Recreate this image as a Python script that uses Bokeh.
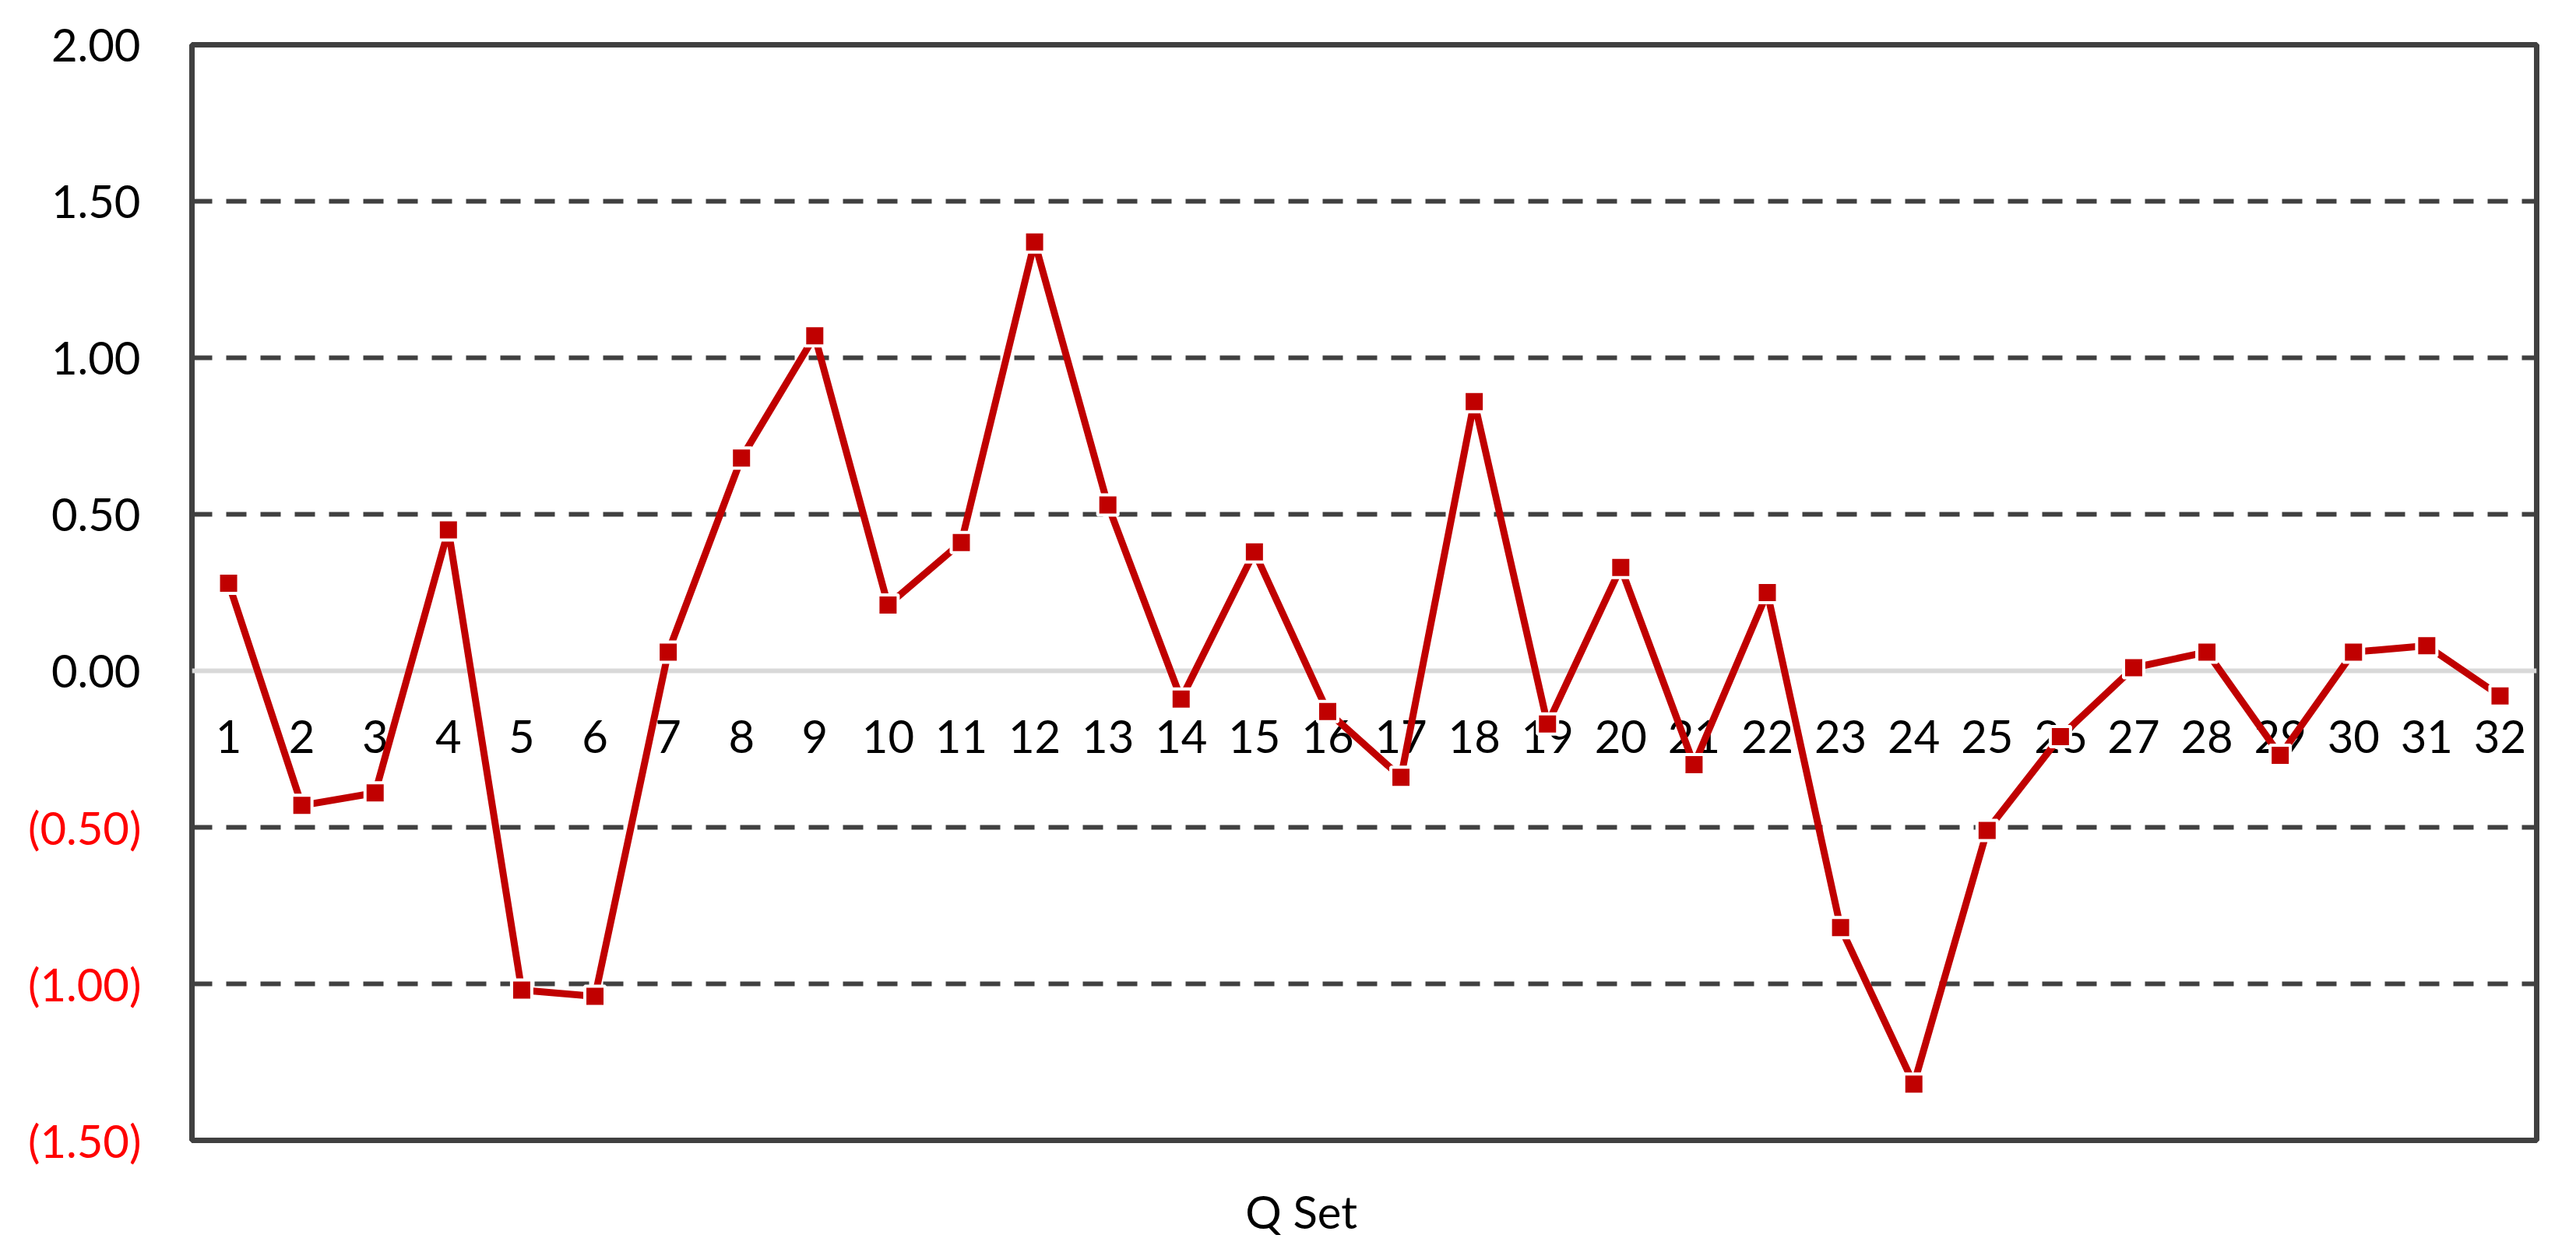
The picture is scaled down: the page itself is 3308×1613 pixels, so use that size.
from bokeh.plotting import figure
from bokeh.models import (FixedTicker, NumeralTickFormatter, LinearAxis, Range1d,
                          CustomJSTickFormatter)
from bokeh.embed import file_html
from bokeh.resources import INLINE

categories = ["1", "2", "3", "4", "5", "6", "7", "8", "9", "10", "11", "12", "13", "14", "15", "16",
              "17", "18", "19", "20", "21", "22", "23", "24", "25", "26", "27", "28", "29", "30", "31", "32"]
values = [0.28, -0.43, -0.39, 0.45, -1.02, -1.04, 0.06, 0.68, 1.07, 0.21, 0.41, 1.37, 0.53, -0.09, 0.38, -0.13,
          -0.34, 0.86, -0.17, 0.33, -0.30, 0.25, -0.82, -1.32, -0.51, -0.21, 0.01, 0.06, -0.27, 0.06, 0.08, -0.08]
pos_ticks = [0.0, 0.5, 1.0, 1.5, 2.0]
neg_ticks = [-0.5, -1.0, -1.5]
grid_ticks = [-1.0, -0.5, 0.5, 1.0, 1.5]
x_title = "Q Set"

xs = [int(c) for c in categories]
x_start, x_end = 0.5, 32.5
# the axis title sits a little left of the plot centre (centred on the whole chart)
x_title_pos = (x_start + x_end) / 2 - 0.86

FONT = "Lato"
FS = "58px"
STANDOFF = 65
RED_LABEL_W = 148  # approx width of "(0.50)" at 58px Lato

p = figure(width=3300, height=1605, x_range=Range1d(x_start, x_end), y_range=Range1d(-1.5, 2.0),
           output_backend="svg", toolbar_location=None,
           min_border_left=246, min_border_right=43, min_border_top=57, min_border_bottom=141,
           background_fill_color="white", border_fill_color="white")

p.outline_line_color = "#404040"
p.outline_line_width = 7

# x axis sits at zero
p.xaxis.fixed_location = 0
p.xaxis.ticker = FixedTicker(ticks=xs)
p.xaxis.major_label_overrides = {x: c for x, c in zip(xs, categories)}
p.xaxis.axis_line_color = "#D9D9D9"
p.xaxis.axis_line_width = 6
p.xaxis.major_tick_line_color = None
p.xaxis.minor_tick_line_color = None
p.xaxis.major_label_standoff = 57
p.xaxis.major_label_text_font = FONT
p.xaxis.major_label_text_font_size = FS
p.xaxis.major_label_text_color = "black"

# axis title "Q Set" below the plot area
title_axis = LinearAxis(ticker=FixedTicker(ticks=[x_title_pos]),
                        major_label_overrides={x_title_pos: x_title},
                        axis_line_color=None, major_tick_line_color=None, major_tick_out=0, major_tick_in=0,
                        minor_tick_line_color=None, minor_tick_out=0, minor_tick_in=0,
                        major_label_standoff=56, major_label_text_font=FONT,
                        major_label_text_font_size=FS, major_label_text_color="black")
p.add_layout(title_axis, "below")

# negative y labels (red) - inner axis
p.yaxis.ticker = FixedTicker(ticks=neg_ticks)
p.yaxis.formatter = CustomJSTickFormatter(code="return '(' + Math.abs(tick).toFixed(2) + ')';")
p.yaxis.axis_line_color = None
p.yaxis.major_tick_line_color = None
p.yaxis.minor_tick_line_color = None
p.yaxis.major_label_standoff = STANDOFF
p.yaxis.major_label_text_font = FONT
p.yaxis.major_label_text_font_size = FS
p.yaxis.major_label_text_color = "#FF0000"
p.yaxis.major_tick_out = 0
p.yaxis.major_tick_in = 0
p.yaxis.minor_tick_out = 0
p.yaxis.minor_tick_in = 0

# positive y labels (black) - outer axis, pulled back to same column
pos_axis = LinearAxis(ticker=FixedTicker(ticks=pos_ticks), formatter=NumeralTickFormatter(format="0.00"),
                      axis_line_color=None, major_tick_line_color=None, major_tick_out=0, major_tick_in=0,
                      minor_tick_line_color=None, minor_tick_out=0, minor_tick_in=0,
                      major_label_standoff=-RED_LABEL_W,
                      major_label_text_font=FONT, major_label_text_font_size=FS,
                      major_label_text_color="black")
p.add_layout(pos_axis, "left")

p.xgrid.visible = False
p.ygrid.ticker = FixedTicker(ticks=grid_ticks)
p.ygrid.grid_line_color = "#404040"
p.ygrid.grid_line_width = 6
p.ygrid.grid_line_dash = "26 18"

ln = p.line(xs, values, line_color="#C00000", line_width=9)
ln.level = "overlay"
mk = p.scatter(xs, values, marker="square", size=26, fill_color="#C00000",
               line_color="white", line_width=4)
mk.level = "overlay"

open("out.html", "w").write(file_html(p, INLINE))
